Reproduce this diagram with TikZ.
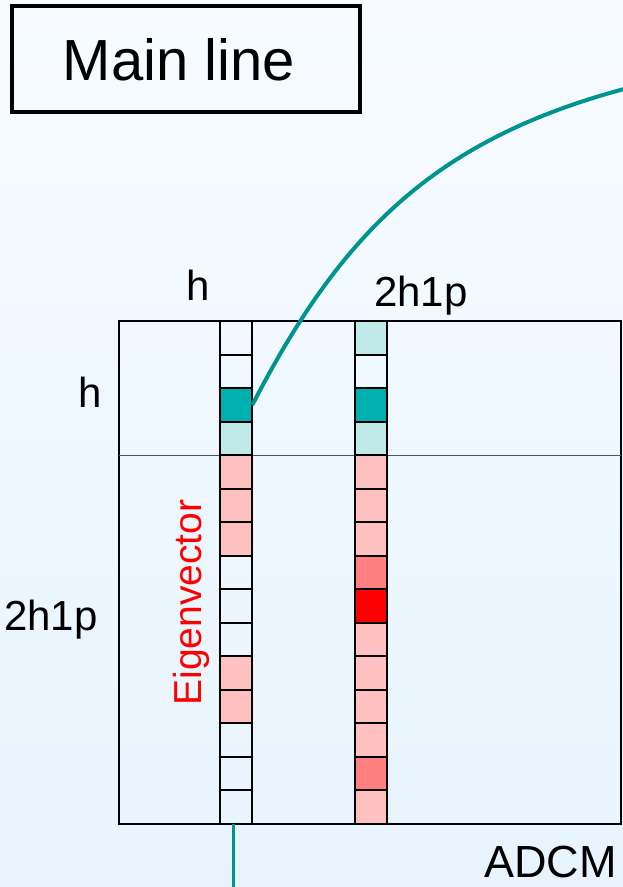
\documentclass[tikz,border=0pt]{standalone}
\usepackage{fontspec}
\setmainfont{Liberation Sans}
\definecolor{bgtop}{HTML}{F7FBFF}
\definecolor{bgbot}{HTML}{E7F4FE}
\definecolor{tealdark}{HTML}{00B0B0}
\definecolor{teallight}{HTML}{C0EAE8}
\definecolor{pinklight}{HTML}{FFC0C0}
\definecolor{pinkmid}{HTML}{FF8080}
\definecolor{redfull}{HTML}{FF0000}
\definecolor{tealline}{HTML}{009490}
\definecolor{divgray}{HTML}{555555}
\begin{document}
\begin{tikzpicture}[x=1pt,y=-1pt,
  cell/.style={draw=black, line width=2.2pt, minimum width=32pt, minimum height=33.49pt, inner sep=0pt, outer sep=0pt},
  lbl/.style={font=\fontsize{42}{50}\selectfont, inner sep=0pt, anchor=base},
  conn/.style={draw=tealline, line width=4pt}]
\fill[top color=bgtop, bottom color=bgbot] (0,0) rectangle (623,887);
\useasboundingbox (0,0) rectangle (623,887);
% title box
\node[draw=black, line width=4pt, minimum width=348pt, minimum height=105.7pt, inner sep=0pt] (mainbox) at (186,58.9) {};
\node[font=\fontsize{58}{66}\selectfont, inner sep=0pt, anchor=base] (maintxt) at (179,80) {Main line};
% matrix
\node[draw=black, line width=2pt, minimum width=501.4pt, minimum height=502.4pt, inner sep=0pt, outer sep=0pt] (adcm) at (370,572.5) {};
\draw[divgray, line width=1.3pt] (adcm.west |- 0,455.3) -- (adcm.east |- 0,455.3);
% columns
\foreach \c [count=\i] in {none,none,tealdark,teallight,pinklight,pinklight,pinklight,none,none,none,pinklight,pinklight,none,none,none}
  \node[cell, fill=\c] (c1-\i) at (236.3,{321.3+33.49*(\i-0.5)}) {};
\foreach \c [count=\i] in {teallight,none,tealdark,teallight,pinklight,pinklight,pinklight,pinkmid,redfull,pinklight,pinklight,pinklight,pinklight,pinkmid,pinklight}
  \node[cell, fill=\c] (c2-\i) at (370.8,{321.3+33.49*(\i-0.5)}) {};
% connectors
\coordinate (curveend) at (624,89);
\coordinate (bottomend) at (233.3,887);
\draw[conn] (c1-3.east) .. controls (341.25,232.45) and (434.8,140) .. (curveend);
\draw[conn, line width=3.5pt] (c1-15.south -| bottomend) -- (bottomend);
% labels
\node[lbl] (htop) at (198,300.7) {h};
\node[lbl] (ptop) at (421,306.7) {2h1p};
\node[lbl] (hleft) at (90,407.7) {h};
\node[lbl] (pleft) at (51,630) {2h1p};
\node[font=\fontsize{45}{52}\selectfont, inner sep=0pt, anchor=base] (adcmlbl) at (550.3,877.3) {ADCM};
\node[font=\fontsize{39}{46}\selectfont, text=red, inner sep=0pt, anchor=base, rotate=90] (eig) at (201.7,602.5) {Eigenvector};
\end{tikzpicture}
\end{document}
